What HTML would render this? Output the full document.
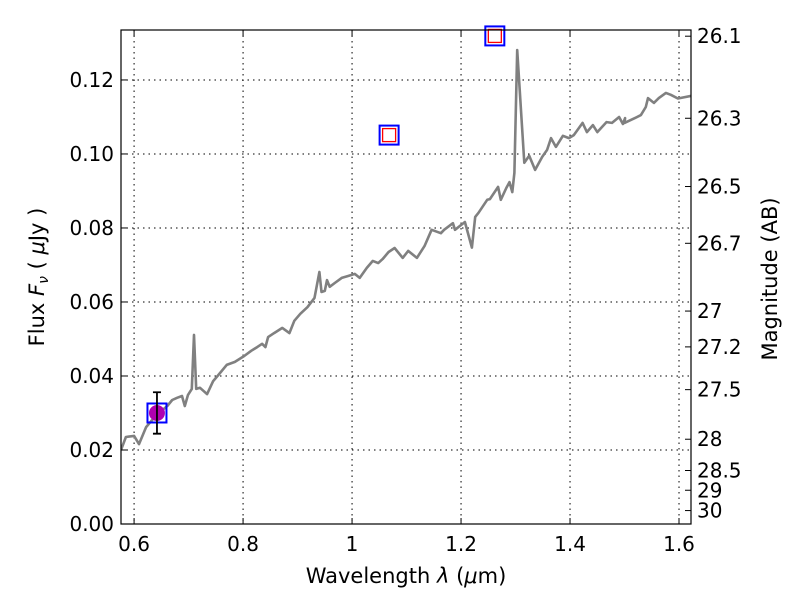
<!DOCTYPE html>
<html><head><meta charset="utf-8"><style>
body{margin:0;background:#fff;font-family:"Liberation Sans","DejaVu Sans",sans-serif}
svg text{font-family:"DejaVu Sans","Liberation Sans",sans-serif}
</style></head><body>
<svg id="c" width="800" height="600" xmlns="http://www.w3.org/2000/svg">
<defs><clipPath id="pc"><rect x="121" y="30" width="570" height="494"/></clipPath></defs>
<rect width="800" height="600" fill="#fff"/>
<g id="grid"></g><g id="spec" clip-path="url(#pc)"></g><g id="marks"></g>
<rect x="121" y="30" width="570" height="494" fill="none" stroke="#000" stroke-width="1.2"/>
<g id="axes"></g>
<text x="406" y="583" font-size="21" text-anchor="middle">Wavelength  <tspan font-style="italic">λ</tspan> (<tspan font-style="italic">μ</tspan>m)</text>
<text transform="translate(44,277) rotate(-90)" font-size="21" text-anchor="middle">Flux  <tspan font-style="italic">F</tspan><tspan font-style="italic" font-size="14" dy="4">ν</tspan><tspan dy="-4">  ( </tspan><tspan font-style="italic">μ</tspan>Jy )</text>
<text transform="translate(777,279) rotate(-90)" font-size="21" text-anchor="middle">Magnitude (AB)</text>
</svg>
<script>
const specLambda=[0.576,0.585,0.6,0.609,0.622,0.633,0.648,0.661,0.670,0.679,0.688,0.693,0.699,0.706,0.710,0.714,0.721,0.728,0.734,0.745,0.756,0.770,0.785,0.802,0.815,0.826,0.835,0.841,0.846,0.857,0.872,0.885,0.894,0.905,0.918,0.931,0.940,0.944,0.950,0.954,0.959,0.968,0.981,0.992,1.005,1.014,1.027,1.038,1.048,1.056,1.067,1.078,1.093,1.103,1.119,1.133,1.146,1.163,1.169,1.185,1.189,1.207,1.220,1.226,1.232,1.248,1.253,1.268,1.273,1.283,1.289,1.294,1.298,1.303,1.316,1.325,1.336,1.349,1.358,1.365,1.374,1.387,1.398,1.407,1.423,1.431,1.442,1.450,1.467,1.477,1.490,1.497,1.501,1.500,1.519,1.530,1.539,1.543,1.554,1.563,1.576,1.585,1.598,1.622];
const specFlux=[0.0200,0.0235,0.0238,0.0216,0.0262,0.0281,0.0303,0.0319,0.0335,0.0341,0.0346,0.0319,0.0349,0.0365,0.0511,0.0365,0.0368,0.0359,0.0351,0.0386,0.0405,0.0430,0.0438,0.0454,0.0468,0.0478,0.0487,0.0478,0.0505,0.0516,0.0530,0.0516,0.0549,0.0568,0.0586,0.0611,0.0681,0.0627,0.0630,0.0659,0.0641,0.0651,0.0665,0.0670,0.0676,0.0665,0.0692,0.0711,0.0705,0.0716,0.0735,0.0746,0.0719,0.0738,0.0719,0.0751,0.0795,0.0786,0.0795,0.0813,0.0795,0.0816,0.0747,0.0830,0.0841,0.0876,0.0878,0.0911,0.0876,0.0908,0.0924,0.0897,0.0949,0.1281,0.0976,0.0995,0.0957,0.0992,0.1011,0.1043,0.1019,0.1049,0.1043,0.1051,0.1084,0.1059,0.1078,0.1059,0.1086,0.1084,0.1100,0.1081,0.1097,0.1084,0.1097,0.1105,0.1127,0.1151,0.1138,0.1151,0.1165,0.1160,0.1150,0.1157];
const photLambda=[0.642,1.068,1.262];
const photFlux=[0.0300,0.1051,0.1319];
const photErr=[0.0056,0,0];
const xTicks=[0.6,0.8,1.0,1.2,1.4,1.6];
const xTickLabels=["0.6","0.8","1","1.2","1.4","1.6"];
const yTicks=[0,0.02,0.04,0.06,0.08,0.10,0.12];
const yTickLabels=["0.00","0.02","0.04","0.06","0.08","0.10","0.12"];
const magTicks=[26.1,26.3,26.5,26.7,27,27.2,27.5,28,28.5,29,30];
const magTickLabels=["26.1","26.3","26.5","26.7","27","27.2","27.5","28","28.5","29","30"];
const X0=121,X1=691,Y0=524,Y1=30,LMIN=0.576,LMAX=1.622,FMIN=0,FMAX=0.1335;
const sx=l=>X0+(l-LMIN)/(LMAX-LMIN)*(X1-X0);
const sy=f=>Y0-(f-FMIN)/(FMAX-FMIN)*(Y0-Y1);
const NS="http://www.w3.org/2000/svg";
function mk(parent,tag,attrs){const e=document.createElementNS(NS,tag);for(const k in attrs)e.setAttribute(k,attrs[k]);document.getElementById(parent).appendChild(e);return e;}
xTicks.forEach((t,i)=>{const x=sx(t);
 const g=mk('grid','line',{x1:x,x2:x,y1:Y1,y2:Y0,stroke:'#000','stroke-width':1,'stroke-dasharray':'1.5,4'});
 
 
 mk('axes','line',{x1:x,x2:x,y1:Y0,y2:Y0-6,stroke:'#000'});
 mk('axes','line',{x1:x,x2:x,y1:Y1,y2:Y1+6,stroke:'#000'});
 const tx=mk('axes','text',{x:x,y:Y0+27,'font-size':20,'text-anchor':'middle'});tx.textContent=xTickLabels[i];
 
 
});
yTicks.forEach((t,i)=>{const y=sy(t);
 const g=mk('grid','line',{x1:X0,x2:X1,y1:y,y2:y,stroke:'#000','stroke-width':1,'stroke-dasharray':'1.5,4'});
 
 
 mk('axes','line',{x1:X0,x2:X0+6,y1:y,y2:y,stroke:'#000'});
 const tx=mk('axes','text',{x:X0-7,y:y+7,'font-size':20,'text-anchor':'end'});tx.textContent=yTickLabels[i];
 
 
});
magTicks.forEach((m,i)=>{const y=sy(Math.pow(10,(23.9-m)/2.5));
 mk('axes','line',{x1:X1-6,x2:X1,y1:y,y2:y,stroke:'#000'});
 const tx=mk('axes','text',{x:X1+6,y:y+7,'font-size':20});tx.textContent=magTickLabels[i];
 
 
});
const pts=specLambda.map((l,i)=>sx(l).toFixed(1)+','+sy(specFlux[i]).toFixed(1)).join(' ');
const pl=mk('spec','polyline',{points:pts,fill:'none',stroke:'#808080','stroke-width':2.6,'stroke-linejoin':'round'});


photLambda.forEach((l,i)=>{const x=sx(l),y=sy(photFlux[i]);
 const b=mk('marks','rect',{x:x-9.5,y:y-9.5,width:19,height:19,fill:'none',stroke:'#00f','stroke-width':2});
 
 
 if(photErr[i]>0){
  const c=mk('marks','circle',{cx:x,cy:y,r:8,fill:'#b000b0'});
  
  
  const e=mk('marks','path',{d:`M${x},${sy(photFlux[i]+photErr[i])}V${sy(photFlux[i]-photErr[i])}M${x-4},${sy(photFlux[i]+photErr[i])}h8M${x-4},${sy(photFlux[i]-photErr[i])}h8`,stroke:'#000','stroke-width':1.8,fill:'none'});
  
  
 } else {
  const r=mk('marks','rect',{x:x-6.5,y:y-6.5,width:13,height:13,fill:'none',stroke:'#f00','stroke-width':1.3});
  
  
 }
});
</script>
</body></html>
